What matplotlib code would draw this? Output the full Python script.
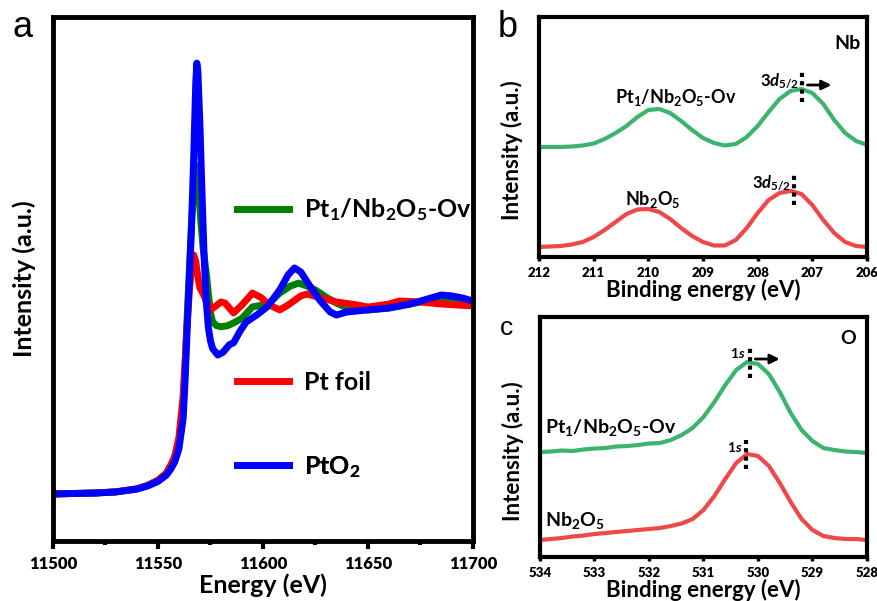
import numpy as np
import matplotlib.pyplot as plt

plt.rcParams['font.family'] = 'Lato'
plt.rcParams['font.weight'] = 'bold'
plt.rcParams['axes.labelweight'] = 'bold'
plt.rcParams['mathtext.fontset'] = 'custom'
plt.rcParams['mathtext.rm'] = 'Lato:bold'
plt.rcParams['mathtext.it'] = 'Lato:bold:italic'
plt.rcParams['mathtext.bf'] = 'Lato:bold'

# ---------------------------------------------------------
# Panel a: Pt L3-edge XANES (normalized)
# ---------------------------------------------------------
ov_e = [11500, 11520, 11530, 11540, 11545, 11550, 11554, 11556, 11558, 11560,
        11562, 11563, 11564, 11565, 11566, 11567, 11567.8, 11568.5, 11569.5, 11570.5,
        11571.5, 11573, 11574, 11575, 11576, 11578, 11580, 11583, 11586, 11590,
        11595, 11600, 11603, 11608, 11613, 11617, 11621, 11625, 11630, 11635,
        11640, 11650, 11660, 11670, 11680, 11690, 11700]
ov_mu = [0, .005, .011, .027, .045, .072, .11, .15, .19, .28,
         .47, .70, .96, 1.20, 1.44, 1.63, 1.74, 1.72, 1.58, 1.43,
         1.30, 1.17, 1.06, .96, .91, .89, .885, .89, .905, .93,
         .99, 1.00, 1.01, 1.063, 1.10, 1.116, 1.10, 1.079, 1.042, 1.01,
         .985, .974, .984, 1.005, 1.026, 1.037, 1.021]

foil_e = [11500, 11520, 11530, 11540, 11545, 11550, 11554, 11556, 11558, 11560,
          11562, 11563, 11564, 11565, 11566, 11567, 11568, 11569, 11570, 11571.5,
          11573, 11575, 11577, 11580, 11582, 11586, 11590, 11595, 11599, 11603,
          11608, 11612, 11618, 11621, 11628, 11635, 11645, 11650, 11660, 11665,
          11675, 11685, 11700]
foil_mu = [0, .005, .011, .027, .045, .072, .11, .15, .20, .30,
           .52, .72, .92, 1.08, 1.20, 1.265, 1.23, 1.15, 1.09, 1.06,
           1.02, .975, .99, 1.016, 1.01, .958, 1.00, 1.063, 1.04, 1.00,
           .974, 1.00, 1.048, 1.058, 1.037, 1.016, 1.0, .989, 1.005, 1.021,
           1.016, 1.005, .995]

pto2_e = [11500, 11520, 11530, 11540, 11545, 11550, 11554, 11556, 11558, 11560,
          11562, 11563, 11564, 11565, 11566, 11567, 11568, 11568.5, 11569, 11570,
          11571, 11572, 11573, 11574, 11575, 11576, 11578.5, 11581, 11584, 11586,
          11589, 11592, 11597, 11602, 11608, 11612, 11615, 11618, 11622, 11627,
          11632, 11635, 11640, 11650, 11660, 11670, 11680, 11685, 11690, 11695,
          11700]
pto2_mu = [0, .005, .011, .026, .042, .066, .10, .13, .17, .24,
           .40, .62, .90, 1.15, 1.42, 1.78, 2.18, 2.28, 2.24, 1.95,
           1.58, 1.25, 1.02, .88, .81, .77, .735, .75, .79, .80,
           .86, .91, .947, .99, 1.08, 1.16, 1.196, 1.175, 1.106, 1.026,
           .963, .947, .963, .974, .984, 1.005, 1.037, 1.053, 1.048, 1.037,
           1.021]

# ---------------------------------------------------------
# Panel b: Nb 3d XPS
# ---------------------------------------------------------
nb_be = np.linspace(212, 206, 31)
nb_ov = [110, 110, 110, 110.5, 111.5, 113.5, 118, 124, 131, 140,
         147, 148, 144, 136, 127, 119, 114, 111.5, 113, 120,
         131, 145, 158, 166, 168, 164, 153, 137, 124, 116, 112]
nb_ref = [10, 10.5, 11, 12.5, 15, 20, 27, 35, 43, 47.5,
          48, 45, 38, 29, 21, 15, 11.5, 11.5, 17, 29,
          44, 57, 64, 66, 63, 52, 37, 24, 15, 11, 10]
nb_peak_ov, nb_peak_ref = 207.19, 207.34

# ---------------------------------------------------------
# Panel c: O 1s XPS
# ---------------------------------------------------------
o_be = np.linspace(534, 528, 31)
o_ov = [105, 105.5, 106.5, 106, 107.5, 108.5, 109, 110.5, 111, 112,
        113.5, 114, 117, 122, 129, 140, 155, 172, 187, 195,
        193, 183, 165, 144, 127, 116, 109, 107, 105.5, 105, 104]
o_ref = [17, 18, 19, 20.5, 21.5, 23, 24, 25, 26, 27,
         28, 29, 31, 33.5, 38, 47, 61, 78, 94, 103,
         101, 91, 74, 55, 38, 27, 21, 19, 18, 18, 17]
o_peak_ov, o_peak_ref = 530.15, 530.22

green_a, red_a, blue_a = '#008000', '#ff0000', '#0000ff'
green_x, red_x = '#3cb46e', '#f04848'

fig = plt.figure(figsize=(8.77, 6.01), dpi=100)
ax_a = fig.add_axes([0.0604, 0.0998, 0.4789, 0.8719])
ax_b = fig.add_axes([0.6146, 0.5724, 0.3740, 0.3993])
ax_c = fig.add_axes([0.6157, 0.0732, 0.3729, 0.3993])

# --- panel a
l1, = ax_a.plot(ov_e, ov_mu, color=green_a, lw=5, solid_joinstyle='round')
l2, = ax_a.plot(foil_e, foil_mu, color=red_a, lw=5, solid_joinstyle='round')
l3, = ax_a.plot(pto2_e, pto2_mu, color=blue_a, lw=5, solid_joinstyle='round')
ax_a.set_xlim(11500, 11700)
ax_a.set_ylim(-0.249, 2.524)
a_ticks = [11500, 11550, 11600, 11650, 11700]
ax_a.set_xticks(a_ticks)
ax_a.set_xticklabels([str(t) for t in a_ticks], fontsize=12, fontweight='heavy')
ax_a.set_xticks([11525, 11575, 11625, 11675], minor=True)
ax_a.set_yticks([])
ax_a.tick_params(axis='x', which='major', direction='out', length=6, width=3, pad=5)
ax_a.tick_params(axis='x', which='minor', direction='out', length=3, width=3)
ax_a.set_xlabel('Energy (eV)', fontsize=18, fontweight='bold', labelpad=1)
ax_a.set_ylabel('Intensity (a.u.)', fontsize=18, fontweight='bold', labelpad=12)
for s in ax_a.spines.values():
    s.set_linewidth(3.5)

for line, lab, ypos in [(l1, 'Pt$_1$/Nb$_2$O$_5$-Ov', 0.632),
                        (l2, 'Pt foil', 0.303),
                        (l3, 'PtO$_2$', 0.141)]:
    leg = ax_a.legend([line], [lab], loc='center left', bbox_to_anchor=(0.438, ypos),
                      frameon=False, prop={'size': 18, 'weight': 'bold'},
                      handlelength=2.1, handletextpad=0.6, borderpad=0, borderaxespad=0)
    ax_a.add_artist(leg)

# --- panel b
ax_b.plot(nb_be, nb_ov, color=green_x, lw=3, solid_joinstyle='round')
ax_b.plot(nb_be, nb_ref, color=red_x, lw=3, solid_joinstyle='round')
ax_b.set_xlim(212, 206)
ax_b.set_ylim(0, 240)
b_ticks = [212, 211, 210, 209, 208, 207, 206]
ax_b.set_xticks(b_ticks)
ax_b.set_xticklabels([str(t) for t in b_ticks], fontsize=9.5, fontweight='heavy')
ax_b.text(209.5, 160, 'Pt$_1$/Nb$_2$O$_5$-Ov', fontsize=13, ha='center', va='center')
ax_b.text(209.92, 57, 'Nb$_2$O$_5$', fontsize=13, ha='center', va='center')
ax_b.text(206.35, 214, 'Nb', fontsize=14, ha='center', va='center')
ax_b.text(nb_peak_ov + 0.05, 177, r'3$\mathit{d}_{5/2}$', fontsize=12, ha='right', va='center')
ax_b.text(nb_peak_ref + 0.05, 74, r'3$\mathit{d}_{5/2}$', fontsize=12, ha='right', va='center')
ax_b.plot([nb_peak_ov, nb_peak_ov], [155, 185], color='black', lw=3, ls=(0, (1, 1)))
ax_b.plot([nb_peak_ref, nb_peak_ref], [52, 82], color='black', lw=3, ls=(0, (1, 1)))
ax_b.annotate('', xy=(206.6, 172), xytext=(nb_peak_ov - 0.05, 172),
              arrowprops=dict(arrowstyle='-|>', color='black', lw=2, mutation_scale=14))

# --- panel c
ax_c.plot(o_be, o_ov, color=green_x, lw=3, solid_joinstyle='round')
ax_c.plot(o_be, o_ref, color=red_x, lw=3, solid_joinstyle='round')
ax_c.set_xlim(534, 528)
ax_c.set_ylim(0, 240)
c_ticks = [534, 533, 532, 531, 530, 529, 528]
ax_c.set_xticks(c_ticks)
ax_c.set_xticklabels([str(t) for t in c_ticks], fontsize=9.5, fontweight='heavy')
ax_c.text(533.9, 130, 'Pt$_1$/Nb$_2$O$_5$-Ov', fontsize=14, ha='left', va='center')
ax_c.text(533.9, 37, 'Nb$_2$O$_5$', fontsize=14, ha='left', va='center')
ax_c.text(528.35, 219, 'O', fontsize=14, ha='center', va='center')
ax_c.text(o_peak_ov + 0.07, 204, r'1$\mathit{s}$', fontsize=10, ha='right', va='center')
ax_c.text(o_peak_ref + 0.07, 110, r'1$\mathit{s}$', fontsize=10, ha='right', va='center')
ax_c.plot([o_peak_ov, o_peak_ov], [179, 209], color='black', lw=3, ls=(0, (1, 1)))
ax_c.plot([o_peak_ref, o_peak_ref], [88, 117], color='black', lw=3, ls=(0, (1, 1)))
ax_c.annotate('', xy=(529.55, 198), xytext=(o_peak_ov - 0.05, 198),
              arrowprops=dict(arrowstyle='-|>', color='black', lw=2, mutation_scale=14))

for ax, ly in [(ax_b, 0.446), (ax_c, 0.442)]:
    ax.set_yticks([])
    ax.tick_params(axis='x', direction='out', length=3, width=2.5, pad=4)
    ax.set_xlabel('Binding energy (eV)', fontsize=16, fontweight='bold', labelpad=0)
    ax.set_ylabel('Intensity (a.u.)', fontsize=16, fontweight='bold')
    ax.yaxis.set_label_coords(-0.05, ly)
    for s in ax.spines.values():
        s.set_linewidth(3)

fig.text(0.0137, 0.938, 'a', fontsize=26, fontweight='normal', family='Liberation Sans')
fig.text(0.568, 0.938, 'b', fontsize=26, fontweight='normal', family='Liberation Sans')
fig.text(0.570, 0.4426, 'c', fontsize=19, fontweight='normal', family='Liberation Sans')

fig.savefig('out.png', dpi=100)
